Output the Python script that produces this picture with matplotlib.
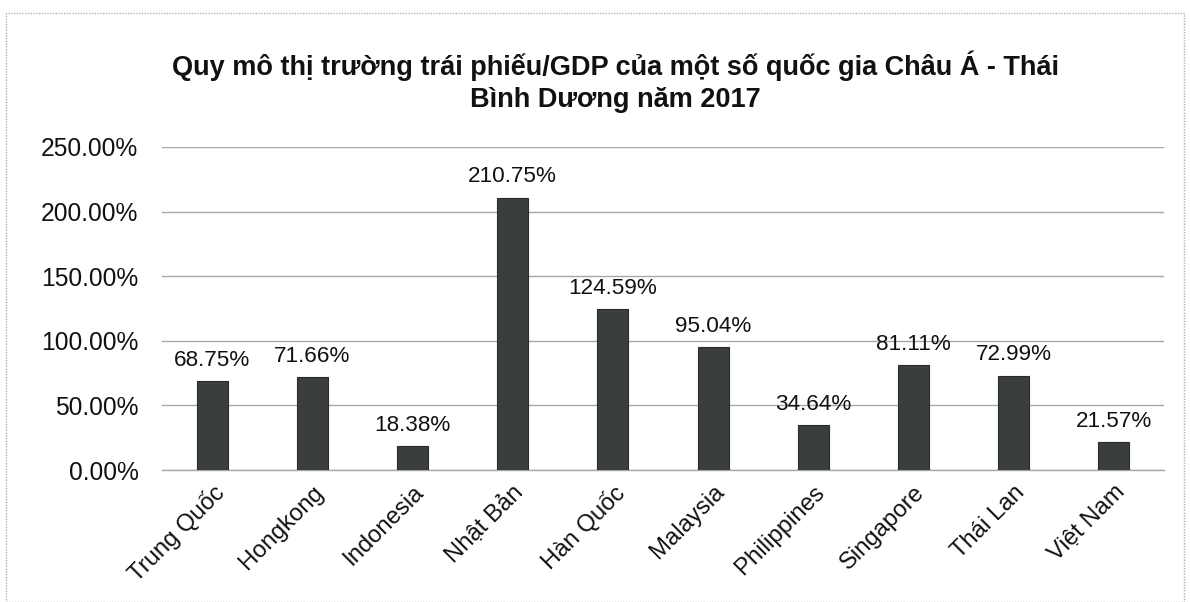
import matplotlib
matplotlib.use("Agg")
import matplotlib.pyplot as plt
from matplotlib.ticker import FuncFormatter
from matplotlib.patches import Rectangle

categories = ["Trung Quốc", "Hongkong", "Indonesia", "Nhật Bản", "Hàn Quốc",
              "Malaysia", "Philippines", "Singapore", "Thái Lan", "Việt Nam"]
values = [68.75, 71.66, 18.38, 210.75, 124.59, 95.04, 34.64, 81.11, 72.99, 21.57]
yticks = [0, 50, 100, 150, 200, 250]
title = "Quy mô thị trường trái phiếu/GDP của một số quốc gia Châu Á - Thái\nBình Dương năm 2017"

plt.rcParams['font.family'] = ['Liberation Sans', 'DejaVu Sans']

fig = plt.figure(figsize=(11.9, 6.02), dpi=100)
ax = fig.add_axes([162/1190, 1-470/602, (1164-162)/1190, (470-147)/602])

x = list(range(len(categories)))
bars = ax.bar(x, values, width=0.31, color="#3b3f3c", edgecolor="#2a2c2a", linewidth=0.8, zorder=3)
for xi, v in zip(x, values):
    ax.text(xi, v + 8, f"{v:.2f}%", ha="center", va="bottom", fontsize=16.2, color="#111111", zorder=4)

ax.set_xlim(-0.5, len(categories) - 0.5)
ax.set_ylim(0, 250)
ax.set_yticks(yticks)
ax.yaxis.set_major_formatter(FuncFormatter(lambda v, p: f"{v:.2f}%"))
ax.grid(axis="y", color="#a8a8a8", linewidth=1.0, zorder=0)
for s in ["top", "right", "left"]:
    ax.spines[s].set_visible(False)
ax.spines["bottom"].set_color("#a8a8a8")
ax.spines["bottom"].set_linewidth(1.0)
ax.tick_params(axis="y", length=0, pad=17, labelsize=17.7, labelcolor="#111111")
ax.tick_params(axis="x", length=0, pad=8, labelsize=17.2, labelcolor="#111111")
ax.set_xticks(x)
ax.set_xticklabels(categories, rotation=45, ha="right", rotation_mode="anchor")

fig.text(615/1190, 1-82/602, title, ha="center", va="center", fontsize=19.5,
         fontweight="bold", color="#111111", linespacing=1.3)

fig.patches.append(Rectangle((6/1190, 0), 1 - 12/1190, 1 - 13/602, transform=fig.transFigure,
                             fill=False, edgecolor="#b0b0b0", linewidth=1.0, linestyle=(0, (1, 1))))

fig.savefig("out.png", dpi=100, facecolor="white")
